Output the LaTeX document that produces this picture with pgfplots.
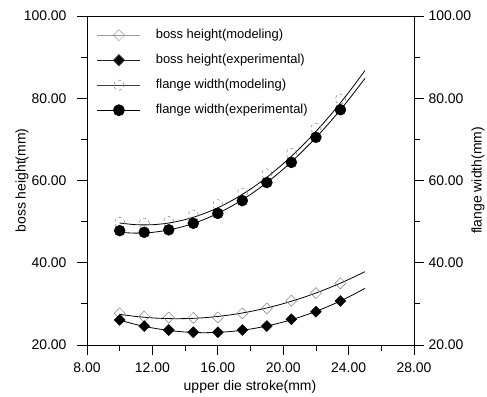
\documentclass[border=0pt]{standalone}
\usepackage{pgfplots}
\pgfplotsset{compat=1.18}
\usepackage{fontspec}
\setmainfont{Liberation Sans}
\begin{document}
\begin{tikzpicture}
\path[use as bounding box] (0,0) rectangle (487bp,397bp);
\pgfplotsset{
  common/.style={
    at={(87bp,52bp)}, anchor=south west, scale only axis,
    width=327bp, height=329bp,
    xmin=8, xmax=28, ymin=20, ymax=100,
    xtick={8,12,...,28}, minor xtick={10,14,...,26},
    ytick={20,40,...,100}, minor ytick={30,50,70,90},
    tick align=outside, major tick length=10bp, minor tick length=6bp,
    every tick/.style={black, line width=0.8pt},
    axis line style={line width=0.9pt},
    /pgf/number format/assume math mode=true,
    xticklabel style={/pgf/number format/fixed, /pgf/number format/fixed zerofill, /pgf/number format/precision=2},
    yticklabel style={/pgf/number format/fixed, /pgf/number format/fixed zerofill, /pgf/number format/precision=2},
    tick label style={font=\fontsize{14}{16}\selectfont},
    label style={font=\fontsize{14}{16}\selectfont},
  }
}
\begin{axis}[common,
  xtick pos=bottom, ytick pos=left,
  xticklabel style={yshift=-4bp},
  yticklabel style={xshift=-7bp},
  xlabel={upper die stroke(mm)}, ylabel={boss height(mm)},
  xlabel style={at={(axis description cs:0.4985,-0.127)}, anchor=center},
  ylabel style={at={(axis description cs:-0.199,0.5)}, anchor=center},
  legend style={at={(rel axis cs:0.03,0.962)}, anchor=north west, draw=none, fill=none,
    font=\fontsize{13}{15}\selectfont, inner sep=0pt, column sep=0pt, row sep=12bp,
    nodes={inner sep=0pt, text height=10bp, text depth=3bp}},
  legend cell align=left,
  legend image code/.code={\draw[mark repeat=2,mark phase=2,#1] plot coordinates {(0bp,0bp) (21.5bp,0bp) (43bp,0bp)}; \path (58bp,0bp);},
]
\addlegendimage{gray!80, line width=0.8pt, mark=square, mark size=3.9bp, mark options={rotate=45, solid, line width=0.5pt}}
\addlegendentry{boss height(modeling)}
\addlegendimage{black!85, line width=0.8pt, mark=square*, mark size=3.9bp, mark options={rotate=45, solid, fill=black}}
\addlegendentry{boss height(experimental)}
\addlegendimage{black!75, line width=0.8pt, mark=o, mark size=5.2bp, mark options={gray, dashed, line width=0.5pt}}
\addlegendentry{flange width(modeling)}
\addlegendimage{black, line width=0.8pt, mark=*, mark size=5.5bp, mark options={solid, fill=black}}
\addlegendentry{flange width(experimental)}

% fitted curves
\addplot[black, line width=0.8pt, smooth, forget plot] coordinates {
(10,27.46) (11,26.94) (12,26.59) (13,26.42) (14,26.42) (15,26.59) (16,26.94) (17,27.46)
(18,28.15) (19,29.01) (20,30.05) (21,31.26) (22,32.64) (23,34.20) (24,35.93) (25,37.83)};
\addplot[black, line width=0.8pt, smooth, forget plot] coordinates {
(10,26.03) (11,24.98) (12,24.15) (13,23.54) (14,23.16) (15,23.00) (16,23.07) (17,23.36)
(18,23.88) (19,24.62) (20,25.58) (21,26.77) (22,28.18) (23,29.81) (24,31.67) (25,33.76)};
\addplot[black, line width=0.8pt, smooth, forget plot] coordinates {
(10,49.66) (11,49.25) (12,49.25) (13,49.66) (14,50.49) (15,51.72) (16,53.37) (17,55.43)
(18,57.90) (19,60.79) (20,64.08) (21,67.79) (22,71.91) (23,76.44) (24,81.39) (25,86.74)};
\addplot[black, line width=0.8pt, smooth, forget plot] coordinates {
(10,47.39) (11,47.20) (12,47.39) (13,47.97) (14,48.93) (15,50.27) (16,52.00) (17,54.11)
(18,56.61) (19,59.49) (20,62.75) (21,66.40) (22,70.43) (23,74.85) (24,79.65) (25,84.83)};

% boss height (modeling)
\addplot[only marks, mark=square, mark size=3.9bp, mark options={rotate=45, gray, line width=0.5pt}, forget plot] coordinates {
(10,27.7) (11.5,26.9) (13,26.7) (14.5,26.6) (16,26.7) (17.5,27.7) (19,28.9) (20.5,30.8) (22,32.6) (23.5,35.0)};
% boss height (experimental)
\addplot[only marks, mark=square*, mark size=3.9bp, mark options={rotate=45, black, fill=black}, forget plot] coordinates {
(10,26.1) (11.5,24.6) (13,23.65) (14.5,23.1) (16,23.1) (17.5,23.65) (19,24.6) (20.5,26.25) (22,28.1) (23.5,30.7)};
% flange width (modeling)
\addplot[only marks, mark=o, mark size=5.2bp, mark options={gray, dashed, line width=0.5pt}, forget plot] coordinates {
(10,49.8) (11.5,49.6) (13,50.0) (14.5,51.6) (16,54.1) (17.5,56.9) (19,61.6) (20.5,66.6) (22,72.7) (23.5,79.8)};
% flange width (experimental)
\addplot[only marks, mark=*, mark size=5.5bp, mark options={black, fill=black}, forget plot] coordinates {
(10,47.8) (11.5,47.4) (13,48.0) (14.5,49.6) (16,52.0) (17.5,55.1) (19,59.5) (20.5,64.4) (22,70.5) (23.5,77.2)};
\end{axis}
\begin{axis}[common,
  xtick=\empty, minor xtick={}, ytick pos=right, yticklabel pos=right,
  yticklabel style={xshift=1bp},
  ylabel={flange width(mm)},
  ylabel style={at={(axis description cs:1.196,0.5)}, anchor=center},
]
\end{axis}
\end{tikzpicture}
\end{document}
